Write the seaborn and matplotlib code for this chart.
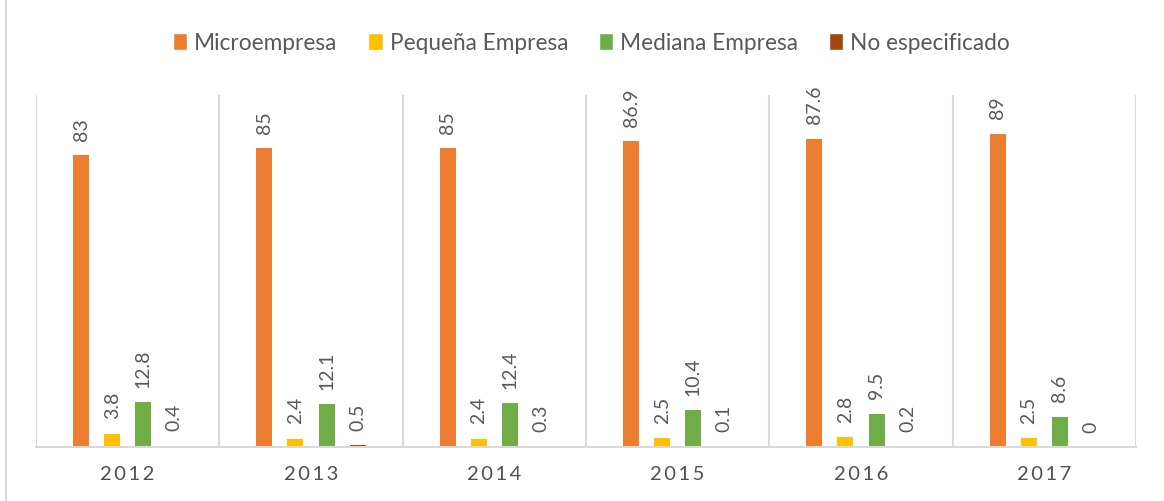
import pandas as pd
import numpy as np
import seaborn as sns
import matplotlib.pyplot as plt
from matplotlib.lines import Line2D

# data
years = ['2012', '2013', '2014', '2015', '2016', '2017']
categories = ['Microempresa', 'Pequeña Empresa', 'Mediana Empresa', 'No especificado']
micro = [83, 85, 85, 86.9, 87.6, 89]
pequena = [3.8, 2.4, 2.4, 2.5, 2.8, 2.5]
mediana = [12.8, 12.1, 12.4, 10.4, 9.5, 8.6]
no_esp = [0.4, 0.5, 0.3, 0.1, 0.2, 0]

colors = ['#ED7D31', '#FFC000', '#70AD47', '#9E480E']
text_gray = '#595959'
line_gray = '#D9D9D9'

df = pd.DataFrame({
    'Año': years * 4,
    'Tipo': np.repeat(categories, len(years)),
    'Valor': micro + pequena + mediana + no_esp,
})

sns.set_style('white')
plt.rcParams['font.family'] = ['Lato', 'DejaVu Sans']

fig = plt.figure(figsize=(11.64, 5.02), dpi=100)
W, H = 1164, 502
ax = fig.add_axes([36 / W, (H - 448) / H, 1100 / W, 352 / H])

sns.barplot(data=df, x='Año', y='Valor', hue='Tipo', palette=colors,
            width=0.677, ax=ax, saturation=1)

# thinner bars with gaps in between
new_w = 16 / 183.3
for bar in ax.patches:
    cx = bar.get_x() + bar.get_width() / 2
    bar.set_width(new_w)
    bar.set_x(cx - new_w / 2)
    bar.set_linewidth(0)

for cont in ax.containers:
    ax.bar_label(cont, fmt='{:g}', rotation=90, padding=11,
                 fontsize=14, color=text_gray)

ax.set_ylim(0, 100)
ax.set_xlim(-0.5, len(years) - 0.5)
for b in np.arange(-0.5, len(years), 1):
    ax.axvline(b, color=line_gray, lw=1.5, zorder=0)

for s in ['top', 'right', 'left']:
    ax.spines[s].set_visible(False)
ax.spines['bottom'].set_color(line_gray)
ax.spines['bottom'].set_linewidth(1.5)
ax.set_yticks([])
ax.set_xlabel('')
ax.set_ylabel('')
ax.set_xticks(range(len(years)))
ax.set_xticklabels(['\u2009'.join(y) for y in years], fontsize=14.5, color='#505050')
ax.tick_params(axis='x', length=0, pad=13)

sns.move_legend(ax, 'center', bbox_to_anchor=(0.508, 1 - 44 / H),
                bbox_transform=fig.transFigure, ncol=4, frameon=False,
                title=None, fontsize=16.3, handlelength=0.65, handleheight=0.75,
                handletextpad=0.3, columnspacing=1.35)
for t in ax.get_legend().get_texts():
    t.set_color(text_gray)

fig.add_artist(Line2D([6 / W, 6 / W], [0, 1], color=line_gray, lw=1.5))

plt.savefig('out.png', dpi=100)
